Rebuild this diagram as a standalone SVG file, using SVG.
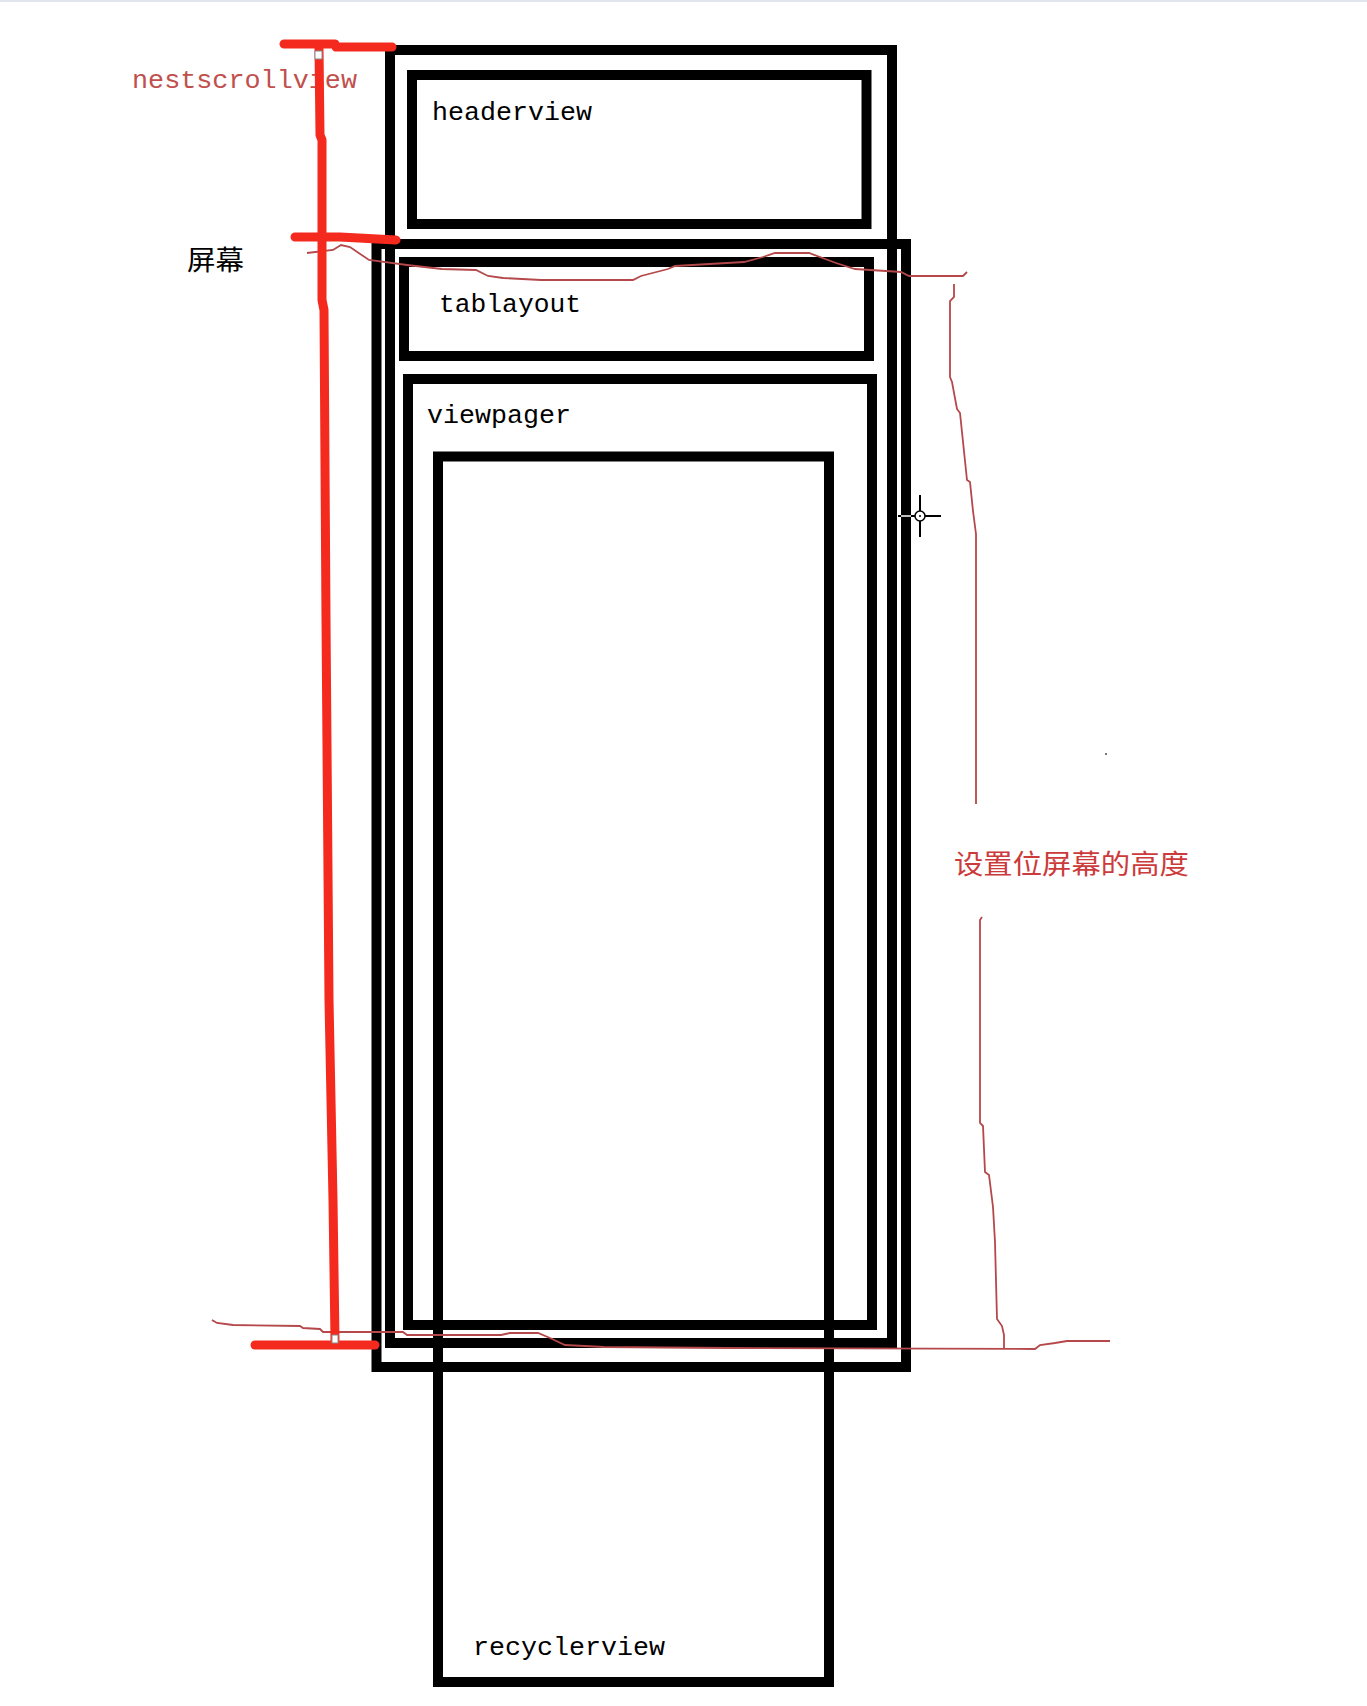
<svg xmlns="http://www.w3.org/2000/svg" width="1367" height="1706" viewBox="0 0 1367 1706">
  <style>
    .box { fill: none; stroke: #000; stroke-width: 10; }
    .lbl { font-family: "Liberation Mono", "DejaVu Sans Mono", monospace; font-size: 26px; fill: #000; }
    .red-lbl { font-family: "Liberation Mono", "DejaVu Sans Mono", monospace; font-size: 26px; fill: #c0504d; }
    .cjk { font-family: "Noto Sans CJK SC", "Noto Sans", sans-serif; font-size: 27px; }
    .thick { fill: none; stroke: #f52a1e; stroke-width: 9; stroke-linecap: round; stroke-linejoin: round; }
    .thin { fill: none; stroke: #b4484a; stroke-width: 1.8; stroke-linejoin: miter; }
    .mark { fill: #fff; stroke: #888; stroke-width: 1; }
  </style>
  <rect x="0" y="0" width="1367" height="1706" fill="#fff"/>
  <rect x="0" y="0" width="1367" height="2" fill="#e1e6ec"/>

  <g id="node-nestscrollview">
    <rect class="box" x="390" y="50" width="502" height="1293"/>
  </g>
  <g id="node-screen">
    <rect class="box" x="376.5" y="244" width="529.5" height="1123"/>
  </g>
  <g id="node-headerview">
    <rect class="box" x="412" y="75" width="454.5" height="149"/>
    <text class="lbl" x="432" y="120" textLength="160" lengthAdjust="spacingAndGlyphs">headerview</text>
  </g>
  <g id="node-tablayout">
    <rect class="box" x="404" y="262" width="465" height="94"/>
    <text class="lbl" x="439" y="312" textLength="142" lengthAdjust="spacingAndGlyphs">tablayout</text>
  </g>
  <g id="node-viewpager">
    <rect class="box" x="408" y="379" width="464" height="946"/>
    <text class="lbl" x="427" y="423" textLength="144" lengthAdjust="spacingAndGlyphs">viewpager</text>
  </g>
  <g id="node-recyclerview">
    <rect class="box" x="438" y="456.5" width="391" height="1225.5"/>
    <text class="lbl" x="473" y="1655" textLength="192" lengthAdjust="spacingAndGlyphs">recyclerview</text>
  </g>

  <g id="labels">
    <text class="red-lbl" x="132" y="88" textLength="225" lengthAdjust="spacingAndGlyphs">nestscrollview</text>
    <text class="cjk" x="187" y="270" fill="#000" textLength="57" lengthAdjust="spacingAndGlyphs">屏幕</text>
    <text class="cjk" x="954" y="874" fill="#cc3b3b" textLength="235" lengthAdjust="spacingAndGlyphs">设置位屏幕的高度</text>
  </g>

  <g id="connectors">
    <!-- thin hand-drawn screen-height outline -->
    <polyline class="thin" points="307,253 333,250 341,245 350,247 369,260 407,265 442,269 476,270 488,276 503,278 541,280 633,280 641,276 668,269 675,266 744,262 763,257 775,253 809,253 836,263 855,269 901,272 909,276 963,276 967,272"/>
    <polyline class="thin" points="954,284 954,297 950,301 950,377 952,382 957,409 960,413 967,480 970,482 973,511 976,534 976,804"/>
    <polyline class="thin" points="982,917 980,920 980,1123 983,1126 985,1172 989,1175 993,1207 995,1242 997,1319 1002,1326 1004,1335 1004,1349"/>
    <polyline class="thin" points="212,1320 217,1323 233,1325 300,1326 303,1328 320,1329 323,1332 403,1332 407,1335 501,1335 510,1333 538,1333 550,1338 565,1345 604,1347 725,1348 1035,1349 1040,1345 1055,1343 1067,1341 1110,1341"/>

    <!-- thick red measurement -->
    <polyline class="thick" points="319,48 320,135 322,140 322,300 324,310 326,620 329,1000 333,1200 335,1340"/>
    <polyline class="thick" points="284,44 335,44 336,47 392,47"/>
    <polyline class="thick" points="295,237 340,237 396,240"/>
    <line class="thick" x1="255" y1="1345" x2="375" y2="1345"/>
    <rect class="mark" x="315" y="51" width="7" height="8"/>
    <rect class="mark" x="332" y="1335" width="6" height="8"/>
  </g>

  <g id="cursor">
    <line x1="898" y1="516" x2="915" y2="516" stroke="#000" stroke-width="2"/>
    <line x1="901" y1="516" x2="911" y2="516" stroke="#fff" stroke-width="1.5"/>
    <line x1="925" y1="516" x2="941" y2="516" stroke="#000" stroke-width="2"/>
    <line x1="920" y1="495" x2="920" y2="511" stroke="#000" stroke-width="2"/>
    <line x1="920" y1="521" x2="920" y2="537" stroke="#000" stroke-width="2"/>
    <circle cx="920" cy="516" r="5" fill="#fff" stroke="#000" stroke-width="1.5"/>
    <circle cx="920" cy="516" r="1" fill="#000"/>
  </g>
  <rect x="1105" y="753" width="2" height="2" fill="#777"/>
</svg>
